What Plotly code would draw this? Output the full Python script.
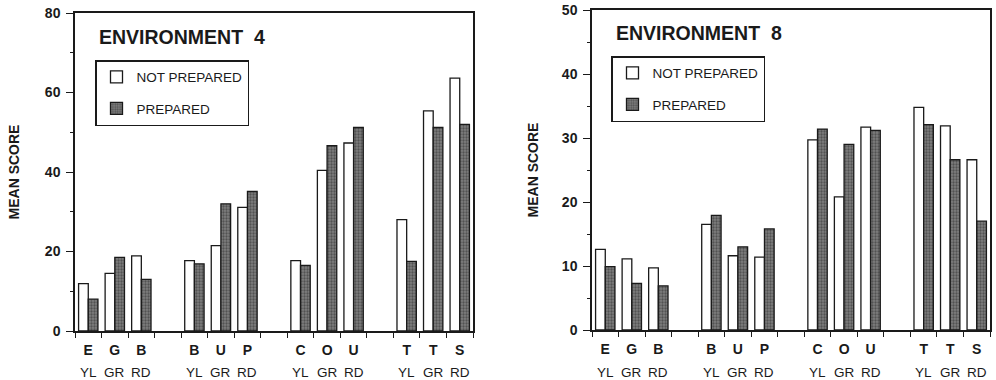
import plotly.graph_objects as go

letters = ["E", "G", "B", "B", "U", "P", "C", "O", "U", "T", "T", "S"]
colour_labels = ["YL", "GR", "RD"]
env4_not_prepared = [11.9, 14.5, 18.9, 17.7, 21.5, 31.1, 17.7, 40.4, 47.3, 28.0, 55.4, 63.6]
env4_prepared = [8.0, 18.5, 13.0, 16.9, 32.0, 35.1, 16.5, 46.6, 51.2, 17.5, 51.2, 52.0]
env8_not_prepared = [12.6, 11.1, 9.7, 16.5, 11.6, 11.4, 29.7, 20.8, 31.7, 34.8, 31.9, 26.6]
env8_prepared = [9.9, 7.3, 6.9, 17.9, 13.0, 15.8, 31.4, 29.0, 31.2, 32.1, 26.6, 17.0]

# slot positions: 4 groups of 3 categories with an empty slot between groups
xpos = [(i // 3) * 4 + (i % 3) for i in range(len(letters))]

FONT = "Liberation Sans, Arial, sans-serif"
INK = "#1a1a1a"
pattern = dict(shape=".", bgcolor="#7e7e7e", fgcolor="#262626", size=3, solidity=0.45)

fig = go.Figure()


def add_pair(notp, prep, xa, ya, legend, grp):
    fig.add_trace(go.Bar(x=xpos, y=notp, name="NOT PREPARED", xaxis=xa, yaxis=ya,
                         marker=dict(color="white", line=dict(color=INK, width=1.3)),
                         legend=legend, legendgroup=grp + "a"))
    fig.add_trace(go.Bar(x=xpos, y=prep, name="PREPARED", xaxis=xa, yaxis=ya,
                         marker=dict(color="#8c8c8c", pattern=pattern, line=dict(color=INK, width=1.3)),
                         legend=legend, legendgroup=grp + "b"))


add_pair(env4_not_prepared, env4_prepared, "x", "y", "legend", "l")
add_pair(env8_not_prepared, env8_prepared, "x2", "y2", "legend2", "r")

W, H = 996, 380
left_dom = [75 / W, 473 / W]
right_dom = [592 / W, 990 / W]


def xaxis(dom, anchor):
    return dict(domain=dom, anchor=anchor, range=[-0.5, 14.5], automargin=False,
                tickvals=xpos, ticktext=["<b>%s</b>" % l for l in letters],
                ticks="", ticklen=0, showgrid=False, zeroline=False, ticklabelstandoff=5,
                showline=True, linecolor=INK, linewidth=1.5, mirror=True,
                tickfont=dict(family=FONT, size=14, color=INK),
                minor=dict(tick0=-0.5, dtick=1, ticks="outside", ticklen=5,
                           tickcolor=INK, tickwidth=1.3, showgrid=False))


def yaxis(dom, anchor, top, major, minor, standoff):
    return dict(domain=dom, anchor=anchor, range=[0, top], dtick=major, automargin=False,
                ticks="outside", ticklen=7, tickwidth=1.3, tickcolor=INK,
                showgrid=False, zeroline=False, ticklabelstandoff=3,
                showline=True, linecolor=INK, linewidth=1.5, mirror=True,
                tickfont=dict(family=FONT, size=14, color=INK),
                tickprefix="<b>", ticksuffix="</b>",
                title=dict(text="<b>MEAN SCORE</b>", standoff=standoff,
                           font=dict(family=FONT, size=14, color=INK)),
                minor=dict(dtick=minor, ticks="outside", ticklen=3,
                           tickcolor=INK, tickwidth=1.3, showgrid=False))


ann = []
for g in range(4):
    for k, lab in enumerate(colour_labels):
        for xr in ("x", "x2"):
            ann.append(dict(x=g * 4 + k, y=(H - 372) / H, xref=xr, yref="paper",
                            text=lab, showarrow=False, yanchor="middle",
                            font=dict(family=FONT, size=13.5, color=INK)))
ann.append(dict(x=97 / W, y=(H - 37) / H, xref="paper", yref="paper", xanchor="left",
                yanchor="middle", showarrow=False, text="<b>ENVIRONMENT  4</b>",
                font=dict(family=FONT, size=19.5, color=INK)))
ann.append(dict(x=614 / W, y=(H - 33) / H, xref="paper", yref="paper", xanchor="left",
                yanchor="middle", showarrow=False, text="<b>ENVIRONMENT  8</b>",
                font=dict(family=FONT, size=19.5, color=INK)))

legend_common = dict(xanchor="left", yanchor="top", bgcolor="white",
                     bordercolor=INK, borderwidth=1.5, traceorder="grouped",
                     tracegroupgap=11, font=dict(family=FONT, size=13.5, color=INK))

fig.update_layout(
    width=W, height=H, margin=dict(l=0, r=0, t=0, b=0, autoexpand=False),
    paper_bgcolor="white", plot_bgcolor="white",
    barmode="group", bargap=0.27, bargroupgap=0,
    xaxis=xaxis(left_dom, "y"),
    yaxis=yaxis([(H - 331) / H, (H - 13) / H], "x", 80, 20, 10, 22),
    xaxis2=xaxis(right_dom, "y2"),
    yaxis2=yaxis([(H - 330) / H, (H - 10) / H], "x2", 50, 10, 5, 20),
    legend=dict(x=95 / W, y=(H - 60) / H, **legend_common),
    legend2=dict(x=611 / W, y=(H - 56) / H, **legend_common),
    annotations=ann,
    showlegend=True,
)

fig.write_html("out.html", config={"displayModeBar": False},
               post_script="document.body.style.margin='0';")
